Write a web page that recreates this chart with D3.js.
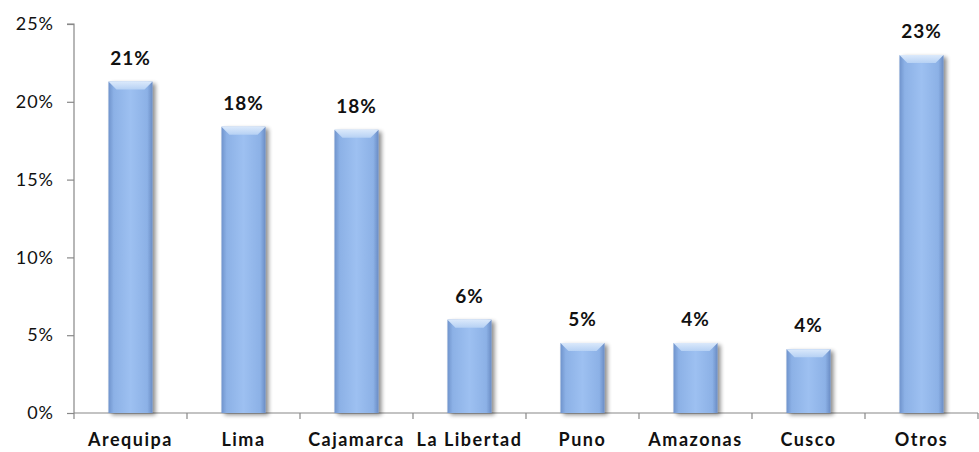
<!DOCTYPE html>
<html><head><meta charset="utf-8">
<script src="https://cdn.jsdelivr.net/npm/d3@7"></script>
<style>body{margin:0;background:#fff}svg{display:block}</style>
</head><body>
<script>
const categories = ["Arequipa","Lima","Cajamarca","La Libertad","Puno","Amazonas","Cusco","Otros"];
const values = [21.3, 18.4, 18.2, 6.0, 4.5, 4.5, 4.1, 23.0];
const labels = ["21%","18%","18%","6%","5%","4%","4%","23%"];
const yTicks = [0,5,10,15,20,25];

const W=979,H=452;
const m={left:74,right:1,top:24,bottom:39};
const svg=d3.select("body").append("svg").attr("width",W).attr("height",H);
const font="Lato, 'Open Sans', sans-serif";

const defs=svg.append("defs");
const g1=defs.append("linearGradient").attr("id","barg").attr("x1","0").attr("x2","1").attr("y1","0").attr("y2","0");
[[0,"#6f93cc"],[0.12,"#8cb1e6"],[0.5,"#9dc0f1"],[0.88,"#8cb1e6"],[1,"#6a8cc4"]].forEach(s=>g1.append("stop").attr("offset",s[0]).attr("stop-color",s[1]));
const g2=defs.append("linearGradient").attr("id","bevg").attr("x1","0").attr("x2","0").attr("y1","0").attr("y2","1");
[[0,"#dbe9fb"],[1,"#b6d1f4"]].forEach(s=>g2.append("stop").attr("offset",s[0]).attr("stop-color",s[1]));
const f=defs.append("filter").attr("id","sh").attr("x","-20%").attr("y","-10%").attr("width","150%").attr("height","130%");
f.append("feGaussianBlur").attr("in","SourceAlpha").attr("stdDeviation",2).attr("result","b");
f.append("feOffset").attr("in","b").attr("dx",3).attr("dy",2).attr("result","o");
f.append("feComponentTransfer").attr("in","o").attr("result","o2").append("feFuncA").attr("type","linear").attr("slope",0.45);
const mg=f.append("feMerge");mg.append("feMergeNode").attr("in","o2");mg.append("feMergeNode").attr("in","SourceGraphic");

const x=d3.scaleBand().domain(categories).range([m.left,W-m.right]).paddingInner(0.61).paddingOuter(0.305);
const y=d3.scaleLinear().domain([0,25]).range([H-m.bottom,m.top]);

// axes
const ya=svg.append("g").attr("transform",`translate(${m.left},0)`)
  .call(d3.axisLeft(y).tickValues(yTicks).tickSize(7).tickFormat(d=>d+"%"));
ya.select(".domain").attr("stroke","#888").attr("stroke-width",1.2).attr("d",`M-7,${y(25)}H0V${y(0)}`);
ya.selectAll(".tick line").attr("stroke","#888").attr("stroke-width",1.2);
ya.selectAll(".tick text").attr("font-family",font).attr("font-size",18).attr("letter-spacing",1).attr("fill","#111").attr("x",-20);

const xa=svg.append("g").attr("transform",`translate(0,${y(0)})`);
xa.append("line").attr("x1",m.left).attr("x2",W-m.right).attr("stroke","#888").attr("stroke-width",1.2);
const step=x.step();
d3.range(categories.length+1).forEach(i=>{
  const xx=m.left+i*step;
  xa.append("line").attr("x1",xx).attr("x2",xx).attr("y1",0).attr("y2",6).attr("stroke","#888").attr("stroke-width",1.2);
});

// bars
const bars=svg.append("g").selectAll("g").data(categories).join("g");
bars.append("rect").attr("x",d=>x(d)).attr("width",x.bandwidth())
  .attr("y",(d,i)=>y(values[i])).attr("height",(d,i)=>y(0)-y(values[i]))
  .attr("fill","url(#barg)").attr("filter","url(#sh)");
bars.append("path").attr("d",(d,i)=>{
  const x0=x(d),x1=x0+x.bandwidth(),t=y(values[i]),b=8;
  return `M${x0},${t}H${x1}L${x1-b},${t+b}H${x0+b}Z`;
}).attr("fill","url(#bevg)");

// value labels
svg.append("g").selectAll("text").data(categories).join("text")
  .attr("x",d=>x(d)+x.bandwidth()/2).attr("y",(d,i)=>y(values[i])-17)
  .attr("text-anchor","middle").attr("font-family",font).attr("font-weight","bold")
  .attr("font-size",19).attr("letter-spacing",1).attr("fill","#111").text((d,i)=>labels[i]);

// category labels
svg.append("g").selectAll("text").data(categories).join("text")
  .attr("x",d=>x(d)+x.bandwidth()/2).attr("y",446)
  .attr("text-anchor","middle").attr("font-family",font).attr("font-weight","bold")
  .attr("font-size",18).attr("letter-spacing",1.5).attr("fill","#111").text(d=>d);
</script>
</body></html>
